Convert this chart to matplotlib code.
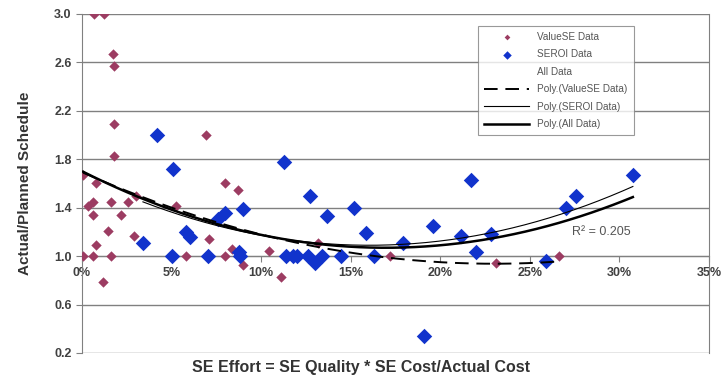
import matplotlib
matplotlib.use("Agg")
import matplotlib.pyplot as plt
import numpy as np
from matplotlib.ticker import FuncFormatter

plt.rcParams['font.family'] = ['Liberation Sans', 'DejaVu Sans']

# ValueSE data: SE effort (%) vs actual/planned schedule
valuese_x = [0.67, 1.22, 1.72, 1.77, 1.77, 1.77, 6.9,
             0.06, 0.8, 8.0, 8.7,
             0.6, 1.6, 2.55, 0.33, 0.6, 2.18, 3.0, 5.25,
             1.44, 0.8, 2.9,
             0.06, 0.6, 1.6, 5.8, 8.0,
             1.16, 7.1, 8.4, 9.0, 10.45, 11.1, 13.15, 17.2, 23.1, 26.6]
valuese_y = [3.0, 3.0, 2.67, 2.57, 2.09, 1.83, 2.0,
             1.67, 1.60, 1.60, 1.545,
             1.45, 1.45, 1.45, 1.41, 1.34, 1.34, 1.50, 1.41,
             1.21, 1.09, 1.17,
             1.0, 1.0, 1.0, 1.0, 1.0,
             0.79, 1.14, 1.06, 0.93, 1.04, 0.83, 1.11, 1.0, 0.94, 1.0]

# SEROI data
seroi_x = [4.2, 5.1, 3.4, 5.8, 6.0, 5.05, 7.06,
           7.6, 8.0, 9.0, 8.75, 8.8,
           11.3, 12.7, 13.65, 15.2, 15.85, 17.9, 19.6, 21.15, 21.7, 22.0, 22.85,
           11.4, 11.8, 12.0, 12.6, 13.0, 13.4, 14.45, 16.3,
           19.1, 25.9, 27.0, 27.6, 30.75]
seroi_y = [2.0, 1.72, 1.11, 1.20, 1.16, 1.0, 1.0,
           1.31, 1.36, 1.39, 1.035, 1.0,
           1.78, 1.50, 1.33, 1.40, 1.19, 1.11, 1.25, 1.17, 1.63, 1.035, 1.18,
           1.0, 1.0, 1.0, 1.0, 0.94, 1.0, 1.0, 1.0,
           0.34, 0.96, 1.40, 1.50, 1.67]

red = '#9c3c62'
blue = '#1133cc'
grey = '#808080'

fig, ax = plt.subplots(figsize=(7.22, 3.81), dpi=100)
fig.subplots_adjust(left=0.1136, right=0.982, top=0.9633, bottom=0.0735)

ax.scatter(valuese_x, valuese_y, marker='D', s=28, color=red, linewidths=0,
           label='ValueSE Data', zorder=3)
ax.scatter(seroi_x, seroi_y, marker='D', s=62, color=blue, linewidths=0,
           label='SEROI Data', zorder=4)
ax.plot([], [], linestyle='none', label='All Data')

# 2nd order polynomial trend lines
all_x = valuese_x + seroi_x
all_y = valuese_y + seroi_y
for xs, ys, style, lw, lab in [
        (valuese_x, valuese_y, (0, (7, 4)), 1.4, 'Poly.(ValueSE Data)'),
        (seroi_x, seroi_y, '-', 0.8, 'Poly.(SEROI Data)'),
        (all_x, all_y, '-', 1.8, 'Poly.(All Data)')]:
    c = np.polyfit(xs, ys, 2)
    xx = np.linspace(min(xs), max(xs), 200)
    ax.plot(xx, np.polyval(c, xx), color='black', linestyle=style, lw=lw,
            label=lab, zorder=5)

ax.text(29.0, 1.20, 'R² = 0.205', fontsize=9, color='#555555',
        ha='center', va='center')

ax.set_xlim(0, 35)
ax.set_ylim(0.2, 3.0)
ax.set_xticks(np.arange(0, 36, 5))
ax.set_yticks(np.arange(0.2, 3.01, 0.4))
ax.xaxis.set_major_formatter(FuncFormatter(lambda v, p: '%d%%' % round(v)))
ax.yaxis.set_major_formatter(FuncFormatter(lambda v, p: '%.1f' % v))
ax.yaxis.grid(True, color=grey, lw=1)
ax.set_axisbelow(True)

ax.spines['bottom'].set_position(('data', 1.0))
ax.spines['top'].set_visible(False)
for s in ['left', 'bottom', 'right']:
    ax.spines[s].set_color(grey)
ax.tick_params(axis='both', colors=grey, length=4, labelcolor='#404040',
               labelsize=9)
for lbl in ax.get_xticklabels() + ax.get_yticklabels():
    lbl.set_fontweight('bold')

ax.set_ylabel('Actual/Planned Schedule', fontsize=11, fontweight='bold',
              color='#333333', labelpad=16)
fig.text(0.5, 0.035, 'SE Effort = SE Quality * SE Cost/Actual Cost',
         fontsize=11.5, fontweight='bold', color='#333333', ha='center',
         va='center')

leg = ax.legend(loc='upper left', bbox_to_anchor=(0.632, 0.965), fontsize=7.2,
                frameon=True, fancybox=False, edgecolor=grey, handlelength=4.5,
                labelspacing=0.75, borderpad=0.6, borderaxespad=0,
                markerscale=0.55)
leg.get_frame().set_linewidth(0.8)
for t in leg.get_texts():
    t.set_color('#555555')

fig.savefig('out.png', dpi=100)
